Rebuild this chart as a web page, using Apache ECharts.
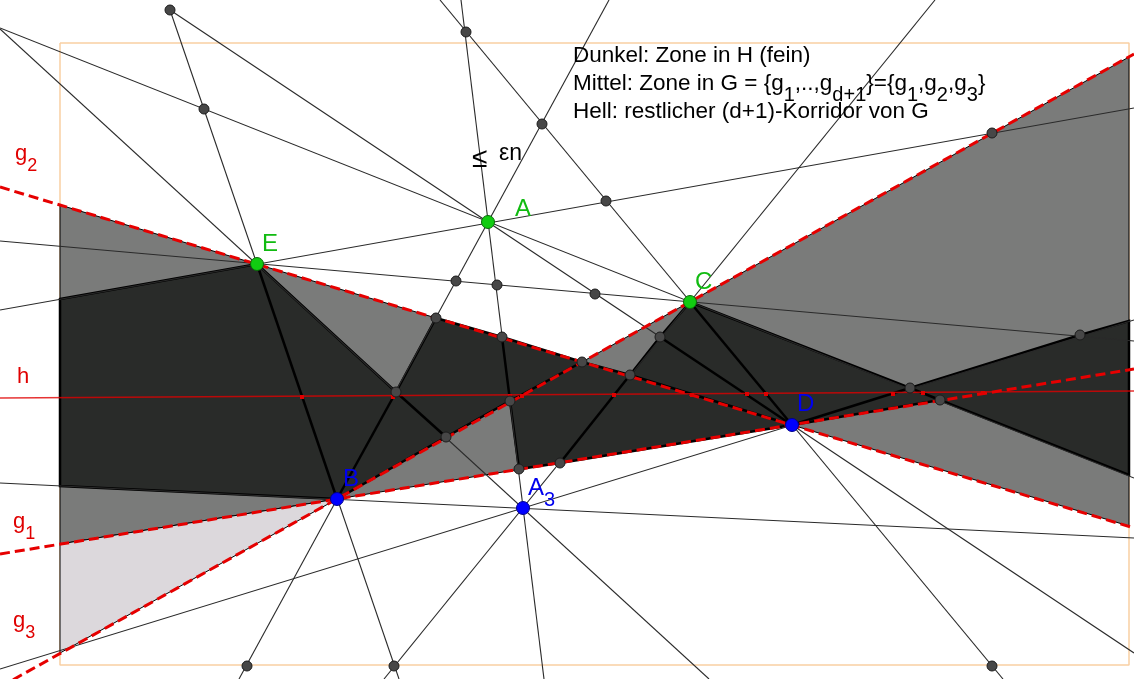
<!DOCTYPE html>
<html>
<head>
<meta charset="utf-8">
<title>Zone in H</title>
<script src="https://cdn.jsdelivr.net/npm/echarts@6/dist/echarts.min.js"></script>
<style>
html, body { margin: 0; padding: 0; background: #fff; }
#main { width: 1134px; height: 679px; }
</style>
</head>
<body>
<div id="main"></div>
<script>
// orange drawing frame
var frame = [[60, 43], [1129, 43], [1129, 665], [60, 665], [60, 43]];

// named points
var greenPoints = [['E', 257, 264], ['A', 488, 222], ['C', 690, 302]];
var bluePoints = [['B', 337, 499], ['A3', 523, 508], ['D', 792, 425]];

// intersection points (dark dots)
var crossings = [
  [170, 10], [466, 32], [204, 109], [542, 124], [606, 201], [992, 133],
  [456, 281], [497, 285], [595, 294], [436, 318], [502, 337], [582, 362],
  [660, 337], [630, 375], [396, 392], [510, 401], [446, 437], [519, 469],
  [560, 463], [1080, 335], [910, 388], [940, 400], [247, 666], [394, 666], [992, 666]
];

// small marks where h crosses the lines
var hHits = [
  [302, 397], [393, 397], [510, 396], [522, 396], [614, 395], [692, 395],
  [747, 394], [766, 394], [893, 394], [923, 393], [983, 393]
];

// arrangement lines, end points on the border of the picture
var lines = [
  [[170, 10], [399, 679]],  // E B (starts at the top dot)
  [[170, 10], [1134, 653]], // A D (starts at the top dot)
  [[0, 28], [1134, 478]],   // A C
  [[0, 29], [709, 679]],    // E A3
  [[0, 310], [1134, 108]],  // E A
  [[0, 241], [1134, 341]],  // E C
  [[461, 0], [544, 679]],   // A A3
  [[440, 0], [1003, 679]],  // C D
  [[609, 0], [239, 679]],   // A B
  [[935, 0], [384, 679]],   // C A3
  [[0, 483], [1134, 538]],  // B A3
  [[0, 669], [1134, 320]]   // D A3
];

var gLines = [
  [[0, 554], [1134, 369]],  // g1
  [[0, 187], [1134, 528]],  // g2
  [[0, 687], [1134, 54]]    // g3
];
var hLine = [[0, 398], [1134, 391]];

// shaded faces
var zoneG = [[60, 205], [792, 425], [60, 544]];
var zoneG2 = [[582, 362], [1129, 57], [1129, 526]];
var corridor = [[60, 544], [337, 499], [60, 653]];
var zoneH = [
  [60, 299], [257, 264], [396, 392], [436, 318], [502, 337], [582, 362],
  [630, 375], [660, 337], [690, 302], [910, 388], [1080, 335], [1129, 321],
  [1129, 475], [940, 400], [792, 425], [560, 463], [519, 469], [510, 401],
  [446, 437], [337, 499], [60, 486]
];
// inner edges of the zone
var zoneEdges = [
  [[257, 264], [337, 499]],
  [[396, 392], [337, 499]],
  [[396, 392], [446, 437]],
  [[510, 401], [502, 337]],
  [[510, 401], [582, 362]],
  [[630, 375], [560, 463]],
  [[660, 337], [792, 425]],
  [[690, 302], [792, 425]],
  [[792, 425], [910, 388]],
  [[910, 388], [940, 400]],
  [[630, 375], [792, 425]]
];

var labelShift = { E: [5, -20], A: [27, -13], C: [5, -20], B: [6, -20], A3: [5, -20], D: [5, -21] };

var FONT = '"Liberation Sans", Arial, "DejaVu Sans", sans-serif';

function segs(list) {
  return list.map(function (p) { return { coords: p }; });
}

function polygonSeries(pts, fill, width, z) {
  return {
    type: 'custom',
    coordinateSystem: 'cartesian2d',
    silent: true,
    z: z,
    data: pts,
    renderItem: function (params, api) {
      if (params.dataIndex !== 0) return null;
      return {
        type: 'polygon',
        shape: { points: pts.map(function (p) { return api.coord(p); }) },
        style: { fill: fill, stroke: '#000', lineWidth: width }
      };
    }
  };
}

function named(list) {
  return list.map(function (p) {
    return { name: p[0], value: [p[1], p[2]], label: { offset: labelShift[p[0]] } };
  });
}

function pointLabel(color) {
  return {
    show: true,
    position: 'inside',
    align: 'left',
    verticalAlign: 'middle',
    color: color,
    fontSize: 24,
    fontFamily: FONT,
    formatter: function (p) {
      return p.name === 'A3' ? '{m|A}{s|3}' : '{m|' + p.name + '}';
    },
    rich: {
      m: { fontSize: 24, lineHeight: 28, color: color, fontFamily: FONT },
      s: { fontSize: 20, lineHeight: 28, padding: [25, 0, 0, 0], color: color, fontFamily: FONT }
    }
  };
}

function gLabel(x, y, digit) {
  return {
    type: 'text', x: x, y: y, silent: true, z: 20,
    style: {
      text: digit ? 'g{s|' + digit + '}' : 'h',
      fill: '#e00000', fontSize: 22, fontFamily: FONT, lineHeight: 30,
      rich: { s: { fontSize: 18, lineHeight: 30, padding: [24, 0, 0, 0], fill: '#e00000', fontFamily: FONT } }
    }
  };
}

function plainText(x, y, text, size) {
  return {
    type: 'text', x: x, y: y, silent: true, z: 20,
    style: { text: text, fill: '#000', fontSize: size, fontFamily: FONT, lineHeight: 30 }
  };
}

var chart = echarts.init(document.getElementById('main'));
chart.setOption({
  animation: false,
  backgroundColor: '#fff',
  grid: { left: 0, right: 0, top: 0, bottom: 0 },
  xAxis: { type: 'value', min: 0, max: 1134, show: false },
  yAxis: { type: 'value', min: 0, max: 679, inverse: true, show: false },
  graphic: [
    {
      type: 'text', x: 573, y: 42, silent: true, z: 20,
      style: {
        text: 'Dunkel: Zone in H (fein)\n' +
          'Mittel: Zone in G = {g{s|1},..,g{s|d+1}}={g{s|1},g{s|2},g{s|3}}\n' +
          'Hell: restlicher (d+1)-Korridor von G',
        fill: '#000', fontSize: 22.5, fontFamily: FONT, lineHeight: 28,
        rich: { s: { fontSize: 20, lineHeight: 28, padding: [22, 0, 0, 0], fill: '#000', fontFamily: FONT } }
      }
    },
    plainText(472, 144, '\u2264', 28),
    plainText(499, 139, '\u03b5n', 23),
    gLabel(15, 139, '2'),
    gLabel(17, 362, null),
    gLabel(13, 507, '1'),
    gLabel(13, 606, '3')
  ],
  series: [
    {
      type: 'line', z: 1, silent: true, symbol: 'none',
      lineStyle: { color: '#f9cfa3', width: 1.5 },
      data: frame
    },
    polygonSeries(zoneG, '#7a7b7a', 1, 2),
    polygonSeries(zoneG2, '#7a7b7a', 1, 2),
    polygonSeries(corridor, '#dcd8dc', 1, 2),
    polygonSeries(zoneH, '#292b29', 2.5, 3),
    {
      type: 'lines', coordinateSystem: 'cartesian2d', z: 4, silent: true,
      lineStyle: { color: '#2a2a2a', width: 1.1, opacity: 1 },
      data: segs(lines)
    },
    {
      type: 'lines', coordinateSystem: 'cartesian2d', z: 5, silent: true,
      lineStyle: { color: '#000', width: 2.5, opacity: 1 },
      data: segs(zoneEdges)
    },
    {
      type: 'lines', coordinateSystem: 'cartesian2d', z: 6, silent: true,
      lineStyle: { color: '#e00000', width: 1.3, opacity: 0.8 },
      data: segs([hLine])
    },
    {
      type: 'lines', coordinateSystem: 'cartesian2d', z: 7, silent: true,
      lineStyle: { color: '#e60000', width: 3, type: [10, 5], opacity: 1 },
      data: segs(gLines)
    },
    {
      type: 'scatter', z: 8, silent: true, symbol: 'rect', symbolSize: 4,
      itemStyle: { color: '#e00000', opacity: 1 },
      data: hHits
    },
    {
      type: 'scatter', z: 9, silent: true, symbolSize: 10,
      itemStyle: { color: '#474747', borderColor: '#1c1c1c', borderWidth: 1, opacity: 1 },
      data: crossings
    },
    {
      type: 'scatter', z: 10, silent: true, symbolSize: 13,
      itemStyle: { color: '#11cc11', borderColor: '#0a6b0a', borderWidth: 1, opacity: 1 },
      label: pointLabel('#11bb11'),
      data: named(greenPoints)
    },
    {
      type: 'scatter', z: 10, silent: true, symbolSize: 13,
      itemStyle: { color: '#0000ff', borderColor: '#00008b', borderWidth: 1, opacity: 1 },
      label: pointLabel('#0000ee'),
      data: named(bluePoints)
    }
  ]
});
</script>
</body>
</html>
